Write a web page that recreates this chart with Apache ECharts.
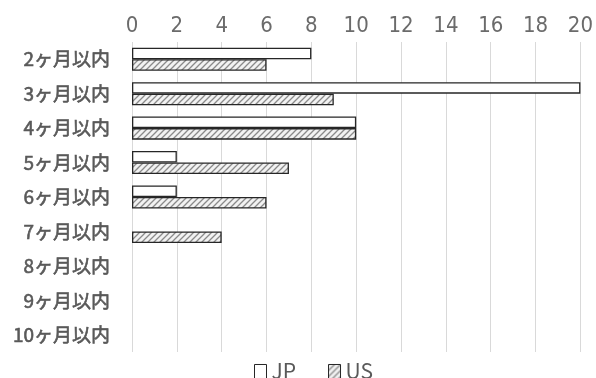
<!DOCTYPE html>
<html><head><meta charset="utf-8">
<script src="https://cdn.jsdelivr.net/npm/echarts@6/dist/echarts.min.js"></script>
<style>html,body{margin:0;padding:0;background:#fff}#c{width:596px;height:378px}</style>
</head><body><div id="c"></div>
<script>
const categories = ['2ヶ月以内','3ヶ月以内','4ヶ月以内','5ヶ月以内','6ヶ月以内','7ヶ月以内','8ヶ月以内','9ヶ月以内','10ヶ月以内'];
const jpValues = [8, 20, 10, 2, 2, 0, 0, 0, 0];
const usValues = [6, 9, 10, 7, 6, 4, 0, 0, 0];

function hatch() {
  const c = document.createElement('canvas');
  c.width = 6; c.height = 6;
  const g = c.getContext('2d');
  g.fillStyle = '#f2f2f2'; g.fillRect(0,0,6,6);
  g.strokeStyle = '#8a8a8a'; g.lineWidth = 1.3;
  g.beginPath();
  g.moveTo(-1,7); g.lineTo(7,-1);
  g.moveTo(-1,1); g.lineTo(1,-1);
  g.moveTo(5,7); g.lineTo(7,5);
  g.stroke();
  return c;
}
const pat = {image: hatch(), repeat: 'repeat'};
const cjk = '"Noto Sans CJK JP", sans-serif';
const narrow = '"Liberation Sans Narrow", "DejaVu Sans Condensed", sans-serif';
const hideZero = v => (v === 0 ? null : v);
const chart = echarts.init(document.getElementById('c'));
chart.setOption({
  animation: false,
  grid: {left: 132, right: 14, top: 42, bottom: 26, containLabel: false},
  legend: {
    top: 356, left: 249, icon: 'rect', itemWidth: 12, itemHeight: 14, itemGap: 32,
    textStyle: {color: '#595959', fontSize: 21, fontFamily: cjk},
    data: [
      {name: 'JP', itemStyle: {color: '#fff', borderColor: '#262626', borderWidth: 1}},
      {name: 'US', itemStyle: {color: pat, borderColor: '#262626', borderWidth: 1}}
    ]
  },
  xAxis: {
    type: 'value', position: 'top', min: 0, max: 20, interval: 2,
    axisLine: {show: false}, axisTick: {show: false},
    splitLine: {lineStyle: {color: '#d9d9d9', width: 1}},
    axisLabel: {color: '#6b6b6b', fontSize: 22, fontFamily: narrow, margin: 5}
  },
  yAxis: {
    type: 'category', inverse: true, data: categories,
    axisLine: {show: false}, axisTick: {show: false},
    axisLabel: {color: '#595959', fontSize: 19, fontWeight: 'normal', fontFamily: cjk, margin: 22,
      textBorderColor: '#595959', textBorderWidth: 0.6}
  },
  series: [
    {name: 'JP', type: 'bar', data: jpValues.map(hideZero), barGap: '0%', barCategoryGap: '33%',
     itemStyle: {color: '#fff', borderColor: '#262626', borderWidth: 1.3}},
    {name: 'US', type: 'bar', data: usValues.map(hideZero), barGap: '0%', barCategoryGap: '33%',
     itemStyle: {color: pat, borderColor: '#262626', borderWidth: 1.3}}
  ]
});
</script></body></html>
